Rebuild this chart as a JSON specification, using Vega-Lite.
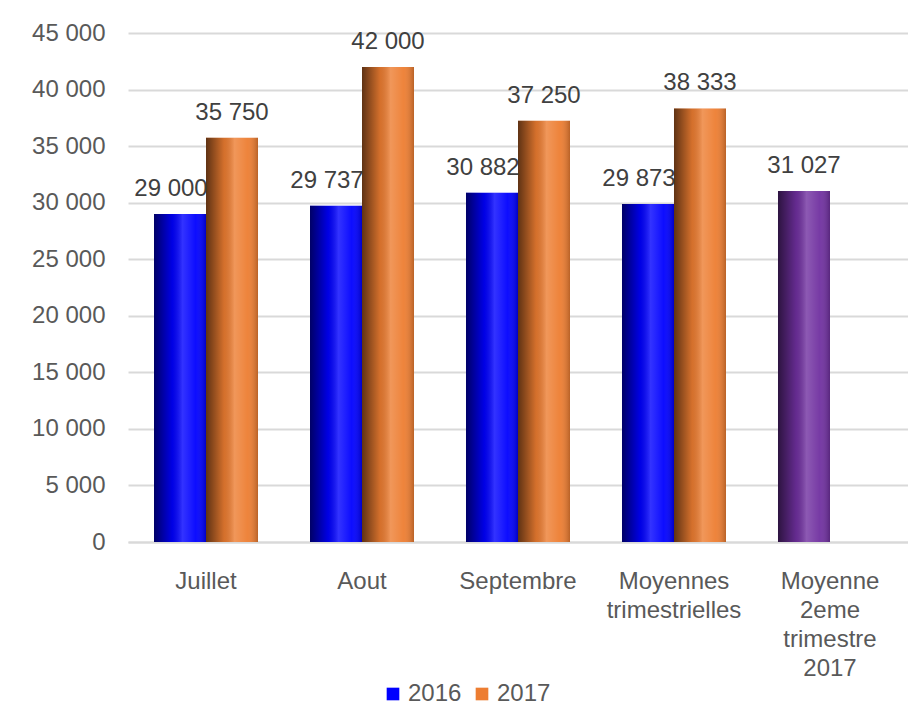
{
  "$schema": "https://vega.github.io/schema/vega-lite/v6.json",
  "autosize": {"type": "none"},
  "padding": {"left": 128, "top": 33, "right": 0, "bottom": 180},
  "width": 780,
  "height": 509,
  "background": "white",
  "config": {
    "font": "Liberation Sans",
    "view": {"stroke": null},
    "legend": {"padding": 0},
    "locale": {"number": {"decimal": ",", "thousands": "\u00a0", "grouping": [3], "currency": ["", "\u00a0€"]}}
  },
  "data": {
    "values": [
      {"categorie": "Juillet", "annee": "2016", "serie": "2016", "valeur": 29000},
      {"categorie": "Juillet", "annee": "2017", "serie": "2017", "valeur": 35750},
      {"categorie": "Aout", "annee": "2016", "serie": "2016", "valeur": 29737},
      {"categorie": "Aout", "annee": "2017", "serie": "2017", "valeur": 42000},
      {"categorie": "Septembre", "annee": "2016", "serie": "2016", "valeur": 30882},
      {"categorie": "Septembre", "annee": "2017", "serie": "2017", "valeur": 37250},
      {"categorie": "Moyennes trimestrielles", "annee": "2016", "serie": "2016", "valeur": 29873},
      {"categorie": "Moyennes trimestrielles", "annee": "2017", "serie": "2017", "valeur": 38333},
      {"categorie": "Moyenne 2eme trimestre 2017", "annee": "2016", "serie": "Moyenne T2 2017", "valeur": 31027}
    ]
  },
  "encoding": {
    "x": {
      "field": "categorie", "type": "nominal", "sort": null,
      "scale": {"paddingInner": 0.3333, "paddingOuter": 0.1667},
      "axis": {
        "title": null, "labelAngle": 0, "ticks": false,
        "domain": true, "domainColor": "#D9D9D9", "domainWidth": 2,
        "labelFont": "Liberation Sans", "labelFontSize": 24, "labelColor": "#595959",
        "labelPadding": 27, "labelLineHeight": 29, "labelBaseline": "top",
        "labelExpr": "split(datum.value, ' ')"
      }
    },
    "xOffset": {"field": "annee", "type": "nominal", "scale": {"domain": ["2016", "2017"], "paddingInner": 0, "paddingOuter": 0}},
    "y": {
      "field": "valeur", "type": "quantitative",
      "scale": {"domain": [0, 45000], "nice": false},
      "axis": {
        "title": null, "values": [0, 5000, 10000, 15000, 20000, 25000, 30000, 35000, 40000, 45000],
        "format": ",d", "domain": false, "ticks": false,
        "grid": true, "gridColor": "#D9D9D9", "gridWidth": 2,
        "labelFont": "Liberation Sans", "labelFontSize": 24, "labelColor": "#595959", "labelPadding": 23
      }
    }
  },
  "layer": [
    {
      "mark": {"type": "bar"},
      "encoding": {
        "color": {
          "field": "serie", "type": "nominal",
          "scale": {"domain": ["2016", "2017", "Moyenne T2 2017"], "range": ["#0000FF", "#ED7D31", "#7030A0"]},
          "legend": {
            "values": ["2016", "2017"], "title": null, "orient": "none",
            "legendX": 253, "legendY": 649, "direction": "horizontal",
            "symbolType": "square", "symbolSize": 160, "symbolStrokeWidth": 0,
            "labelFont": "Liberation Sans", "labelFontSize": 24, "labelColor": "#595959",
            "labelOffset": 3, "columnPadding": 8
          }
        }
      }
    },
    {
      "mark": {
        "type": "bar",
        "color": {
          "gradient": "linear", "x1": 0, "x2": 1, "y1": 0, "y2": 0,
          "stops": [
            {"offset": 0, "color": "rgba(0,0,0,0.6)"},
            {"offset": 0.35, "color": "rgba(0,0,0,0.1)"},
            {"offset": 0.55, "color": "rgba(255,255,255,0.2)"},
            {"offset": 0.8, "color": "rgba(255,255,255,0.05)"},
            {"offset": 1, "color": "rgba(0,0,0,0.22)"}
          ]
        }
      },
      "encoding": {}
    },
    {
      "transform": [{"filter": "datum.serie == '2016'"}],
      "mark": {"type": "text", "baseline": "alphabetic", "dy": -18, "dx": -9, "font": "Liberation Sans", "fontSize": 24, "color": "#404040"},
      "encoding": {
        "text": {"field": "valeur", "type": "quantitative", "format": ",d"}
      }
    },
    {
      "transform": [{"filter": "datum.serie != '2016'"}],
      "mark": {"type": "text", "baseline": "alphabetic", "dy": -18, "font": "Liberation Sans", "fontSize": 24, "color": "#404040"},
      "encoding": {
        "text": {"field": "valeur", "type": "quantitative", "format": ",d"}
      }
    }
  ]
}
